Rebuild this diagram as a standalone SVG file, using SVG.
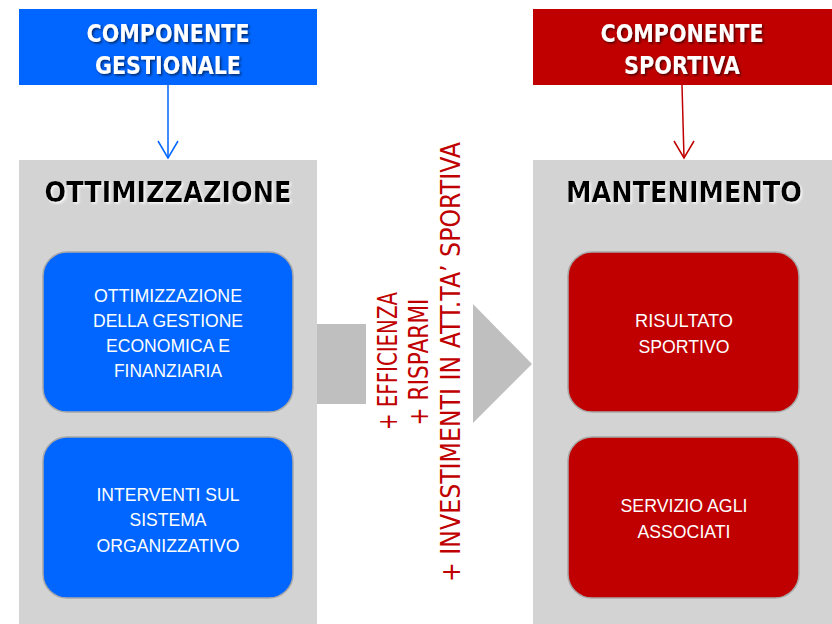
<svg xmlns="http://www.w3.org/2000/svg" width="832" height="624" viewBox="0 0 832 624">
<defs>
<style>
.hdrtxt{font-family:"DejaVu Sans",Verdana,sans-serif;font-weight:bold;font-size:25px;fill:#ffffff;text-anchor:middle;}
.title{font-family:"DejaVu Sans",Verdana,sans-serif;font-weight:bold;font-size:29px;fill:#000000;text-anchor:middle;}
.boxtxt{font-family:"Liberation Sans",Arial,sans-serif;font-size:19px;fill:#ffffff;text-anchor:middle;}
.mid{font-family:"DejaVu Sans",Verdana,sans-serif;font-size:26px;fill:#c00000;text-anchor:middle;}
.panel{fill:#d3d3d3;}
.bbox{fill:#0066ff;stroke:#a8a8a8;stroke-width:1.5;}
.rbox{fill:#c00000;stroke:#a8a8a8;stroke-width:1.5;}
</style>
<filter id="dk" x="-20%" y="-50%" width="140%" height="200%">
<feDropShadow dx="1.5" dy="1.5" stdDeviation="1" flood-color="#000000" flood-opacity="0.6"/>
</filter>
<filter id="lt" x="-5%" y="-50%" width="110%" height="200%">
<feDropShadow dx="1.5" dy="1.5" stdDeviation="1" flood-color="#ffffff" flood-opacity="0.9"/>
</filter>
<marker id="arrB" markerWidth="24" markerHeight="20" refX="11" refY="18" orient="0" markerUnits="userSpaceOnUse">
<polyline points="1,1 11,18 21,1" fill="none" stroke="#0066ff" stroke-width="1.5"/>
</marker>
<marker id="arrR" markerWidth="24" markerHeight="20" refX="11" refY="18" orient="0" markerUnits="userSpaceOnUse">
<polyline points="1,1 11,18 21,1" fill="none" stroke="#c00000" stroke-width="1.5"/>
</marker>
</defs>
<rect width="832" height="624" fill="#ffffff"/>

<g id="hdr-gestionale">
<rect x="19" y="9" width="298" height="76" fill="#0066ff"/>
<text class="hdrtxt" filter="url(#dk)"><tspan x="168" y="42" textLength="163" lengthAdjust="spacingAndGlyphs">COMPONENTE</tspan><tspan x="168" y="74" textLength="146" lengthAdjust="spacingAndGlyphs">GESTIONALE</tspan></text>
</g>

<g id="hdr-sportiva">
<rect x="533" y="9" width="299" height="76" fill="#c00000"/>
<text class="hdrtxt" filter="url(#dk)"><tspan x="682" y="42" textLength="163" lengthAdjust="spacingAndGlyphs">COMPONENTE</tspan><tspan x="682" y="74" textLength="116" lengthAdjust="spacingAndGlyphs">SPORTIVA</tspan></text>
</g>

<g id="panel-ottimizzazione">
<rect class="panel" x="19" y="160" width="298" height="464"/>
<text class="title" x="168" y="202" textLength="247" lengthAdjust="spacingAndGlyphs" filter="url(#lt)">OTTIMIZZAZIONE</text>
</g>

<g id="panel-mantenimento">
<rect class="panel" x="533" y="160" width="299" height="464"/>
<text class="title" x="684" y="202" textLength="236" lengthAdjust="spacingAndGlyphs" filter="url(#lt)">MANTENIMENTO</text>
</g>

<g id="box-economica">
<rect class="bbox" x="43" y="252" width="250" height="160" rx="24"/>
<text class="boxtxt"><tspan x="168" y="302" textLength="148" lengthAdjust="spacingAndGlyphs">OTTIMIZZAZIONE</tspan><tspan x="168" y="327" textLength="150" lengthAdjust="spacingAndGlyphs">DELLA GESTIONE</tspan><tspan x="168" y="352" textLength="124" lengthAdjust="spacingAndGlyphs">ECONOMICA E</tspan><tspan x="168" y="377" textLength="108" lengthAdjust="spacingAndGlyphs">FINANZIARIA</tspan></text>
</g>

<g id="box-organizzativo">
<rect class="bbox" x="43" y="437" width="250" height="161" rx="24"/>
<text class="boxtxt"><tspan x="168" y="501" textLength="143" lengthAdjust="spacingAndGlyphs">INTERVENTI SUL</tspan><tspan x="168" y="526" textLength="77" lengthAdjust="spacingAndGlyphs">SISTEMA</tspan><tspan x="168" y="552" textLength="143" lengthAdjust="spacingAndGlyphs">ORGANIZZATIVO</tspan></text>
</g>

<g id="box-risultato">
<rect class="rbox" x="568" y="252" width="231" height="160" rx="24"/>
<text class="boxtxt"><tspan x="684" y="327" textLength="98" lengthAdjust="spacingAndGlyphs">RISULTATO</tspan><tspan x="684" y="353" textLength="91" lengthAdjust="spacingAndGlyphs">SPORTIVO</tspan></text>
</g>

<g id="box-servizio">
<rect class="rbox" x="568" y="437" width="231" height="161" rx="24"/>
<text class="boxtxt"><tspan x="684" y="512" textLength="127" lengthAdjust="spacingAndGlyphs">SERVIZIO AGLI</tspan><tspan x="684" y="538" textLength="93" lengthAdjust="spacingAndGlyphs">ASSOCIATI</tspan></text>
</g>

<g id="big-arrow">
<rect x="317" y="324" width="49" height="80" fill="#bfbfbf"/>
<polygon points="473,304 532,364 473,423" fill="#bfbfbf"/>
</g>

<g id="benefits">
<text class="mid" transform="translate(397,361) rotate(-90)" x="0" y="0" textLength="138" lengthAdjust="spacingAndGlyphs">+ EFFICIENZA</text>
<text class="mid" transform="translate(428,362) rotate(-90)" x="0" y="0" textLength="127" lengthAdjust="spacingAndGlyphs">+ RISPARMI</text>
<text class="mid" transform="translate(460,362) rotate(-90)" x="0" y="0" textLength="440" lengthAdjust="spacingAndGlyphs">+ INVESTIMENTI IN ATT.TA’ SPORTIVA</text>
</g>

<g id="connectors">
<line x1="168" y1="85" x2="168" y2="158" stroke="#0066ff" stroke-width="1.5" marker-end="url(#arrB)"/>
<line x1="682" y1="85" x2="684" y2="158" stroke="#c00000" stroke-width="1.5" marker-end="url(#arrR)"/>
</g>
</svg>
